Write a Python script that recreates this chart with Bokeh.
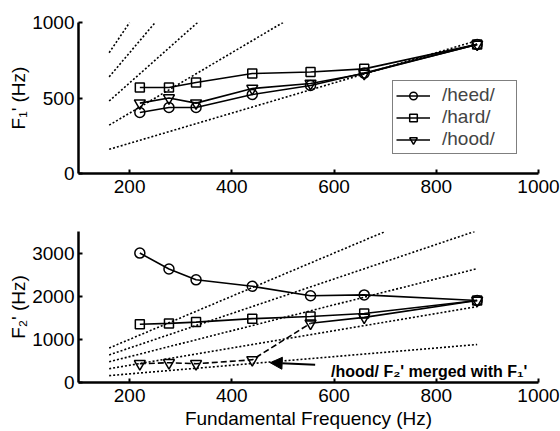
from bokeh.plotting import figure
from bokeh.layouts import column
from bokeh.models import Range1d, FixedTicker, Legend, LegendItem, Arrow, NormalHead, Label
from bokeh.core.properties import value
from bokeh.embed import file_html
from bokeh.resources import INLINE

# ---- data ----
f0 = [220, 277, 330, 440, 554, 659, 880]
f1_heed = [404, 437, 437, 523, 583, 665, 855]
f1_hard = [570, 570, 603, 662, 672, 693, 855]
f1_hood = [466, 500, 466, 563, 596, 662, 855]
f2_heed = [3000, 2630, 2380, 2230, 2010, 2030, 1900]
f2_hard = [1350, 1370, 1400, 1480, 1530, 1600, 1900]
f2_hood = [435, 458, 435, 526, 1373, 1510, 1900]
n_merged = 5  # first five /hood/ F2' points drawn dashed (merged with F1')

harm_x0 = [160, 160, 160, 160, 160]
harm_y0 = [160, 320, 480, 640, 800]
top_harm_x1 = [880, 500, 333, 250, 200]
top_harm_y1 = [880, 1000, 1000, 1000, 1000]
bot_harm_x1 = [880, 880, 880, 875, 700]
bot_harm_y1 = [880, 1760, 2640, 3500, 3500]

x_ticks = [200, 400, 600, 800, 1000]
top_y_ticks = [0, 500, 1000]
bot_y_ticks = [0, 1000, 2000, 3000]

FONT = "Liberation Sans"


def make_fig(height, ymax, yticks, ylabel, min_top, min_bottom, xlabel=None):
    p = figure(width=560, height=height, x_range=Range1d(100, 1000), y_range=Range1d(0, ymax),
               output_backend="svg", toolbar_location=None,
               min_border_left=78, min_border_right=22,
               min_border_top=min_top, min_border_bottom=min_bottom)
    p.xgrid.visible = False
    p.ygrid.visible = False
    p.outline_line_color = None
    p.background_fill_color = "white"
    p.border_fill_color = "white"
    p.xaxis.ticker = FixedTicker(ticks=x_ticks)
    p.yaxis.ticker = FixedTicker(ticks=yticks)
    for ax in p.xaxis + p.yaxis:
        ax.axis_line_width = 2.5
        ax.axis_line_color = "black"
        ax.major_tick_in = 4
        ax.major_tick_out = 0
        ax.major_tick_line_width = 2
        ax.minor_tick_in = 0
        ax.minor_tick_out = 0
        ax.major_label_text_font = FONT
        ax.major_label_text_font_size = "19px"
        ax.major_label_text_color = "black"
        ax.axis_label_text_font = FONT
        ax.axis_label_text_font_size = "19px"
        ax.axis_label_text_font_style = "normal"
        ax.axis_label_text_color = "black"
    p.yaxis.major_label_standoff = 4
    p.yaxis.axis_label_standoff = 0
    p.yaxis.axis_label = ylabel
    p.xaxis.major_label_standoff = 6
    if xlabel:
        p.xaxis.axis_label = xlabel
        p.xaxis.axis_label_standoff = 3
        p.xaxis.major_label_standoff = 6
    return p


dot = value("2 2")

# ---- top: F1' ----
p1 = make_fig(202, 1000, top_y_ticks, "F\u2081' (Hz)", 22, 29)
p1.segment(harm_x0, harm_y0, top_harm_x1, top_harm_y1, line_color="black",
           line_width=1.6, line_dash=dot)
items = []
for lab, ys, mk, sz in [("/heed/", f1_heed, "circle", 10),
                        ("/hard/", f1_hard, "square", 9),
                        ("/hood/", f1_hood, "inverted_triangle", 11)]:
    lr = p1.line(f0, ys, line_color="black", line_width=1.6)
    sr = p1.scatter(f0, ys, marker=mk, size=sz, fill_color=None, line_color="black", line_width=1.5)
    items.append(LegendItem(label=lab, renderers=[lr, sr]))
leg = Legend(items=items, location=(314, 19), margin=0, padding=3, spacing=0,
             glyph_width=34, glyph_height=19, label_height=19, label_width=71, label_standoff=12,
             label_text_font=FONT, label_text_font_size="19px",
             border_line_color="black", border_line_width=1,
             background_fill_color="white", background_fill_alpha=1)
p1.add_layout(leg, "center")

# ---- bottom: F2' ----
p2 = make_fig(229, 3500, bot_y_ticks, "F\u2082' (Hz)", 29, 48, "Fundamental Frequency (Hz)")
p2.segment(harm_x0, harm_y0, bot_harm_x1, bot_harm_y1, line_color="black",
           line_width=1.6, line_dash=dot)
p2.line(f0, f2_heed, line_color="black", line_width=1.6)
p2.scatter(f0, f2_heed, marker="circle", size=10, fill_color=None, line_color="black", line_width=1.5)
p2.line(f0, f2_hard, line_color="black", line_width=1.6)
p2.scatter(f0, f2_hard, marker="square", size=9, fill_color=None, line_color="black", line_width=1.5)
p2.line(f0[:n_merged], f2_hood[:n_merged], line_color="black", line_width=1.6, line_dash="6 3")
p2.line(f0[n_merged - 1:], f2_hood[n_merged - 1:], line_color="black", line_width=1.6)
p2.scatter(f0, f2_hood, marker="inverted_triangle", size=11, fill_color=None, line_color="black", line_width=1.5)

# annotation
ann_text_x, ann_text_y = 594, 250
arr_x0, arr_y0, arr_x1, arr_y1 = 563, 412, 475, 458
p2.add_layout(Arrow(end=NormalHead(size=12, fill_color="black", line_color="black"),
                    x_start=arr_x0, y_start=arr_y0, x_end=arr_x1, y_end=arr_y1,
                    line_color="black", line_width=2))
p2.add_layout(Label(x=ann_text_x, y=ann_text_y, text="/hood/ F\u2082' merged with F\u2081'",
                    text_font=FONT, text_font_size="16px", text_font_style="bold",
                    text_baseline="alphabetic", text_color="black"))

layout = column(p1, p2, spacing=0)
open("out.html", "w").write(file_html(layout, INLINE))
